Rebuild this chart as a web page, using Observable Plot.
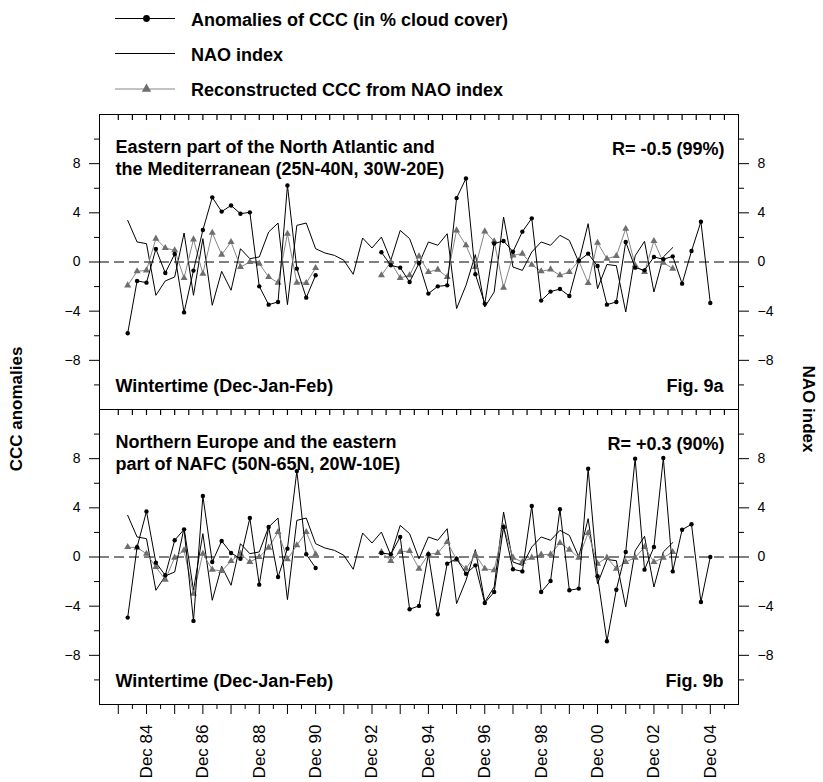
<!DOCTYPE html>
<html><head><meta charset="utf-8">
<script src="https://cdn.jsdelivr.net/npm/d3@7"></script>
<script src="https://cdn.jsdelivr.net/npm/@observablehq/plot@0.6"></script>
<style>
body{margin:0;background:#fff;}
#chart{position:relative;width:823px;height:782px;font-family:Arial,"Liberation Sans",Helvetica,sans-serif;overflow:hidden;background:#fff;}
#chart > svg{position:absolute;left:0;}
.ytitle{position:absolute;font-weight:bold;font-size:17px;white-space:nowrap;color:#000;}
</style></head><body><div id="chart"></div>
<script>
const months = ["Dec 83","Jan 84","Feb 84","Dec 84","Jan 85","Feb 85","Dec 85","Jan 86","Feb 86","Dec 86","Jan 87","Feb 87","Dec 87","Jan 88","Feb 88","Dec 88","Jan 89","Feb 89","Dec 89","Jan 90","Feb 90","Dec 90","Jan 91","Feb 91","Dec 91","Jan 92","Feb 92","Dec 92","Jan 93","Feb 93","Dec 93","Jan 94","Feb 94","Dec 94","Jan 95","Feb 95","Dec 95","Jan 96","Feb 96","Dec 96","Jan 97","Feb 97","Dec 97","Jan 98","Feb 98","Dec 98","Jan 99","Feb 99","Dec 99","Jan 00","Feb 00","Dec 00","Jan 01","Feb 01","Dec 01","Jan 02","Feb 02","Dec 02","Jan 03","Feb 03","Dec 03","Jan 04","Feb 04","Dec 04"];
const tickLabels = ["Dec 84","Dec 86","Dec 88","Dec 90","Dec 92","Dec 94","Dec 96","Dec 98","Dec 00","Dec 02","Dec 04"];
const yMajor = [-8,-4,0,4,8];
const yMinor = [-10,-6,-2,2,6,10];

const nao = [null,3.39,1.63,1.49,-2.71,-1.54,-1.22,2.36,-2.71,1.9,-3.52,-0.76,-2.3,1.08,0.27,0.41,2.44,3.17,-3.47,2.98,3.17,1.08,0.73,0.54,0.14,-1.0,1.95,1.14,2.03,0.14,2.57,1.9,-0.14,1.63,1.36,2.3,-3.79,-1.9,0.6,-3.66,-2.44,3.66,-0.41,-0.68,0.81,1.63,1.36,2.17,1.76,0,3.12,-2.17,-0.2,-0.3,-4.07,0.5,1.68,-2.44,0.41,1.17,null,null,null,null];

const cccAtl = [null,-5.8,-1.54,-1.68,1.06,-0.89,0.65,-4.1,-0.7,2.6,5.26,4.1,4.6,3.93,4.04,-1.98,-3.47,-3.25,6.23,-0.54,-2.9,-1.08,null,null,null,null,null,null,0.79,-0.27,-0.46,-1.63,-0.1,-2.57,-1.98,-1.9,5.2,6.8,-1.0,-3.39,1.5,1.71,0.84,2.47,3.55,-3.14,-2.41,-2.2,-2.76,0.1,0.68,-0.33,-3.47,-3.25,1.63,-0.46,-0.68,0.41,0.22,0.46,-1.76,0.89,3.28,-3.33];
const recAtl = [null,-1.9,-0.76,-0.68,1.9,1.14,0.95,-1.3,1.84,-0.95,2.38,0.6,1.63,-0.41,0,-0.14,-1.22,-1.68,2.3,-1.68,-1.71,-0.49,null,null,null,null,null,null,-1.08,0,-1.3,-1.08,0.46,-0.81,-0.62,-1.22,2.57,1.36,-0.41,2.49,1.68,-2.09,0.54,0.68,-0.22,-0.76,-0.6,-1.08,-0.81,0.1,-1.71,1.57,0.27,0.49,2.71,-0.27,-0.81,1.71,-0.05,-0.54,null,null,null,null];

const cccNeu = [null,-4.93,0.8,3.71,-0.46,-1.49,1.36,2.25,-5.2,4.96,-0.41,1.3,0.33,-0.14,3.17,-2.25,2.44,-1.63,0.68,6.99,0.22,-0.89,null,null,null,null,null,null,0.33,0.22,1.63,-4.25,-3.98,0.22,-4.66,-0.54,-0.14,-1.36,-0.68,-3.74,-2.85,2.44,-1.0,-1.17,4.15,-2.85,-1.95,3.88,-2.71,-2.57,7.18,-1.57,-6.85,-2.66,0.41,8.0,-1.03,0.81,8.05,-1.17,2.22,2.66,-3.66,0];
const recNeu = [null,0.81,0.76,0.27,-0.81,-1.84,-0.05,0.54,-2.98,0.27,-1.03,-1.14,-0.33,0.27,-0.41,0,0.76,2.03,-0.19,0.95,2.03,0.22,null,null,null,null,null,null,0.41,-0.33,0.41,0.49,-0.95,0.22,0.33,1.22,-0.22,-0.95,0.19,-0.95,-1.08,2.44,-0.05,-0.41,-0.05,0.19,0.22,1.14,0.6,-0.05,1.95,-0.54,-0.05,-0.95,-0.41,-0.05,0.81,-0.41,-0.05,0.41,null,null,null,null];

const legendLabels = ["Anomalies of CCC (in % cloud cover)","NAO index","Reconstructed CCC from NAO index"];
const panelTitles = ["Eastern part of the North Atlantic and\nthe Mediterranean (25N-40N, 30W-20E)","Northern Europe and the eastern\npart of NAFC (50N-65N, 20W-10E)"];
const rTexts = ["R= -0.5 (99%)","R= +0.3 (90%)"];
const figTexts = ["Fig. 9a","Fig. 9b"];
const seasonText = "Wintertime (Dec-Jan-Feb)";
const yTitleLeft = "CCC anomalies";
const yTitleRight = "NAO index";

const FONT = 'Arial, "Liberation Sans", Helvetica, sans-serif';
const GREY_LINE = "#868686";
const GREY_MARK = "#6e6e6e";
const PANEL_H = 295;
const TICK_IN = 6;

// tick positions derived from the month categories
const decIdx = months.map((m,i)=>m.startsWith("Dec")?i:null).filter(v=>v!==null);
const halfIdx = decIdx.map(i=>i+1.5);
const topTicks = decIdx.concat(halfIdx).sort((a,b)=>a-b);
const labelIdx = tickLabels.map(l=>months.indexOf(l));

const chart = document.getElementById("chart");

// legend
const lg = d3.create("svg").attr("width",823).attr("height",104).style("top","0px").style("font-family",FONT);
const legendY = [18.5, 53.5, 89];
legendLabels.forEach((lab,k)=>{
  const y = legendY[k];
  const col = k===2 ? GREY_LINE : "#000";
  lg.append("line").attr("x1",115).attr("x2",175).attr("y1",y).attr("y2",y).attr("stroke",col).attr("stroke-width",1);
  if (k===0) lg.append("circle").attr("cx",146.5).attr("cy",y).attr("r",3.4).attr("fill","#000");
  if (k===2) lg.append("path").attr("d",d3.symbol(d3.symbolTriangle,38)()).attr("transform",`translate(146.5,${y})`).attr("fill",GREY_MARK);
  lg.append("text").attr("x",191).attr("y",y+7).attr("font-size",18).attr("font-weight","bold").attr("fill","#000").text(lab);
});
chart.appendChild(lg.node());

function panel(ccc, rec, k, bottom) {
  const rows = months.map((m,i)=>({i, m, nao: nao[i], ccc: ccc[i], rec: rec[i]}));
  const marks = [
    Plot.ruleY([0], {stroke:"#000", strokeWidth:1, strokeDasharray:"10,5"}),
    Plot.line(rows, {x:"i", y:"nao", stroke:"#000", strokeWidth:1}),
    Plot.line(rows, {x:"i", y:"rec", stroke:GREY_LINE, strokeWidth:1}),
    Plot.dot(rows, {x:"i", y:"rec", symbol:"triangle", fill:GREY_MARK, r:2.6}),
    Plot.line(rows, {x:"i", y:"ccc", stroke:"#000", strokeWidth:1}),
    Plot.dot(rows, {x:"i", y:"ccc", fill:"#000", r:2.2}),
    // inner ticks hanging down from the top edge of the frame
    Plot.ruleX(topTicks, {x:d=>d, insetBottom:PANEL_H-TICK_IN, stroke:"#000", strokeWidth:1.2}),
    Plot.frame({stroke:"#000", strokeWidth:1}),
    Plot.axisY(yMajor, {anchor:"left", tickSize:10, tickPadding:9, fontSize:14, label:null}),
    Plot.axisY(yMinor, {anchor:"left", tickSize:5, fill:"none", label:null}),
    Plot.axisY(yMajor, {anchor:"right", tickSize:10, tickPadding:9, fontSize:14, label:null}),
    Plot.axisY(yMinor, {anchor:"right", tickSize:5, fill:"none", label:null}),
    Plot.text([panelTitles[k]], {text:d=>d, frameAnchor:"top-left", textAnchor:"start", lineAnchor:"top", dx:16, dy:23, fontSize:18, fontWeight:"bold", lineHeight:1.22, fill:"#000"}),
    Plot.text([rTexts[k]], {text:d=>d, frameAnchor:"top-right", textAnchor:"end", lineAnchor:"top", dx:-14, dy:28, fontSize:18, fontWeight:"bold", fill:"#000"}),
    Plot.text([seasonText], {text:d=>d, frameAnchor:"top-left", textAnchor:"start", lineAnchor:"top", dx:16, dy:265, fontSize:18, fontWeight:"bold", fill:"#000"}),
    Plot.text([figTexts[k]], {text:d=>d, frameAnchor:"top-right", textAnchor:"end", lineAnchor:"top", dx:-15, dy:265, fontSize:18, fontWeight:"bold", fill:"#000"})
  ];
  if (bottom) {
    marks.push(
      Plot.axisX(decIdx, {anchor:"bottom", tickSize:10, fill:"none", label:null}),
      Plot.axisX(halfIdx, {anchor:"bottom", tickSize:5, fill:"none", label:null}),
      Plot.axisX(labelIdx, {anchor:"bottom", tickSize:0, tickPadding:20, tickRotate:-90, tickFormat:i=>months[i], fontSize:17, label:null})
    );
  } else {
    marks.push(Plot.axisX([], {anchor:"bottom", tickSize:0, label:null}));
  }
  return Plot.plot({
    width:823, height: PANEL_H + 10 + (bottom ? 78 : 0),
    marginLeft:99, marginRight:85, marginTop:10, marginBottom: bottom ? 78 : 0,
    x:{domain:[-2,66]},
    y:{domain:[-12,12]},
    style:{fontFamily:FONT, fontSize:"14px", color:"#000", background:"transparent", overflow:"visible"},
    marks
  });
}

const p1 = panel(cccAtl, recAtl, 0, false);
p1.style.top = "104px";
chart.appendChild(p1);
const p2 = panel(cccNeu, recNeu, 1, true);
p2.style.top = "399px";
chart.appendChild(p2);

const tl = document.createElement("div");
tl.className = "ytitle"; tl.textContent = yTitleLeft;
tl.style.left = "17px"; tl.style.top = "409px"; tl.style.transform = "translate(-50%,-50%) rotate(-90deg)";
chart.appendChild(tl);
const tr = document.createElement("div");
tr.className = "ytitle"; tr.textContent = yTitleRight;
tr.style.left = "808px"; tr.style.top = "409px"; tr.style.transform = "translate(-50%,-50%) rotate(90deg)";
chart.appendChild(tr);
</script></body></html>
